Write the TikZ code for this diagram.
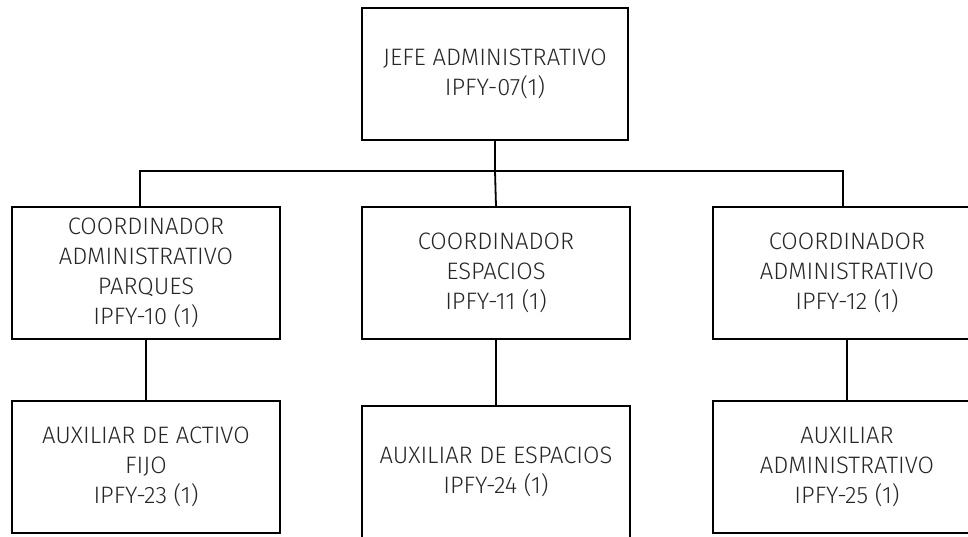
\documentclass[tikz,border=0pt]{standalone}
\usepackage{fontspec}
\setmainfont{Fira Sans Light}
\usetikzlibrary{positioning}

\begin{document}
\begin{tikzpicture}[x=1pt,y=-1pt,
		cargo/.style={draw,line width=1.8pt,rectangle,align=center,minimum width=268pt,minimum height=132pt,inner sep=0pt,text=black!85,font=\fontsize{23.8}{30}\selectfont},
		enlace/.style={line width=1.8pt}]
	\useasboundingbox (0,0) rectangle (968,537);
	\clip (0,0) rectangle (968,537);

	\node[cargo,minimum width=266pt] (JefeAdministrativo) at (495,74) {JEFE ADMINISTRATIVO\\IPFY-07(1)};

	\node[cargo] (CoordinadorParques) at (146,273) {COORDINADOR\\ADMINISTRATIVO\\PARQUES\\IPFY-10 (1)};
	\node[cargo] (CoordinadorEspacios) at (496,273) {COORDINADOR\\ESPACIOS\\IPFY-11 (1)};
	\node[cargo] (CoordinadorAdministrativo) at (847,273) {COORDINADOR\\ADMINISTRATIVO\\IPFY-12 (1)};

	\node[cargo] (AuxiliarActivoFijo) at (146,467) {AUXILIAR DE ACTIVO\\FIJO\\IPFY-23 (1)};
	\node[cargo] (AuxiliarEspacios) at (496,472) {AUXILIAR DE ESPACIOS\\IPFY-24 (1)};
	\node[cargo] (AuxiliarAdministrativo) at (847,467) {AUXILIAR\\ADMINISTRATIVO\\IPFY-25 (1)};

	\coordinate (bus) at (495,171);
	\draw[enlace] (JefeAdministrativo.south) -- (bus);
	\draw[enlace] (bus) -| ([xshift=-6pt]CoordinadorParques.north);
	\draw[enlace] (bus) -| ([xshift=-4pt]CoordinadorAdministrativo.north);
	\draw[enlace] (bus) -- (CoordinadorEspacios.north);

	\draw[enlace] (CoordinadorParques.south) -- (AuxiliarActivoFijo.north);
	\draw[enlace] (CoordinadorEspacios.south) -- (AuxiliarEspacios.north);
	\draw[enlace] (CoordinadorAdministrativo.south) -- (AuxiliarAdministrativo.north);
\end{tikzpicture}
\end{document}
